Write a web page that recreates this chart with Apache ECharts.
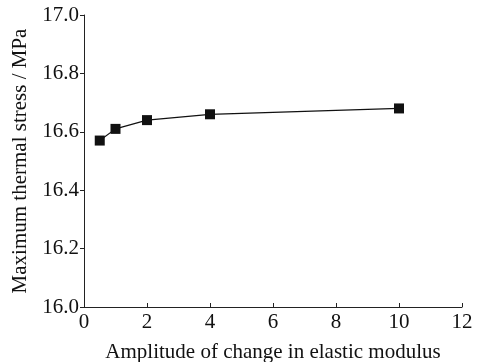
<!DOCTYPE html>
<html>
<head>
<meta charset="utf-8">
<script src="https://cdn.jsdelivr.net/npm/echarts@6/dist/echarts.min.js"></script>
<style>
  html, body { margin: 0; padding: 0; background: #fff; }
  #chart { width: 478px; height: 362px; }
</style>
</head>
<body>
<div id="chart"></div>
<script>
// amplitude of change in elastic modulus
const amplitude = [0.5, 1, 2, 4, 10];
// maximum thermal stress, MPa
const stress = [16.57, 16.61, 16.64, 16.66, 16.68];

const chart = echarts.init(document.getElementById("chart"));
const font = "Liberation Serif";

chart.setOption({
  animation: false,
  grid: { left: 84, top: 15, right: 16, bottom: 55, outerBoundsMode: "none" },
  xAxis: {
    type: "value",
    min: 0,
    max: 12,
    interval: 2,
    name: "Amplitude of change in elastic modulus",
    nameLocation: "middle",
    nameGap: 35,
    nameTextStyle: { fontFamily: font, fontSize: 21, color: "#111" },
    axisLine: { lineStyle: { color: "#222", width: 1 } },
    axisTick: { inside: true, length: 4, lineStyle: { color: "#222" } },
    axisLabel: { fontFamily: font, fontSize: 21, color: "#111", margin: 5 },
    splitLine: { show: false }
  },
  yAxis: {
    type: "value",
    min: 16.0,
    max: 17.0,
    interval: 0.2,
    name: "Maximum thermal stress / MPa",
    nameLocation: "middle",
    nameGap: 48,
    nameTextStyle: { fontFamily: font, fontSize: 21, color: "#111" },
    axisLine: { show: true, lineStyle: { color: "#222", width: 1 } },
    axisTick: { show: true, length: 4, lineStyle: { color: "#222" } },
    axisLabel: {
      fontFamily: font, fontSize: 21, color: "#111", margin: 5,
      formatter: (v) => v.toFixed(1)
    },
    splitLine: { show: false }
  },
  series: [
    {
      type: "line",
      data: amplitude.map((x, i) => [x, stress[i]]),
      symbol: "rect",
      symbolSize: 10,
      lineStyle: { color: "#111", width: 1.2 },
      itemStyle: { color: "#111" }
    }
  ]
});
</script>
</body>
</html>
